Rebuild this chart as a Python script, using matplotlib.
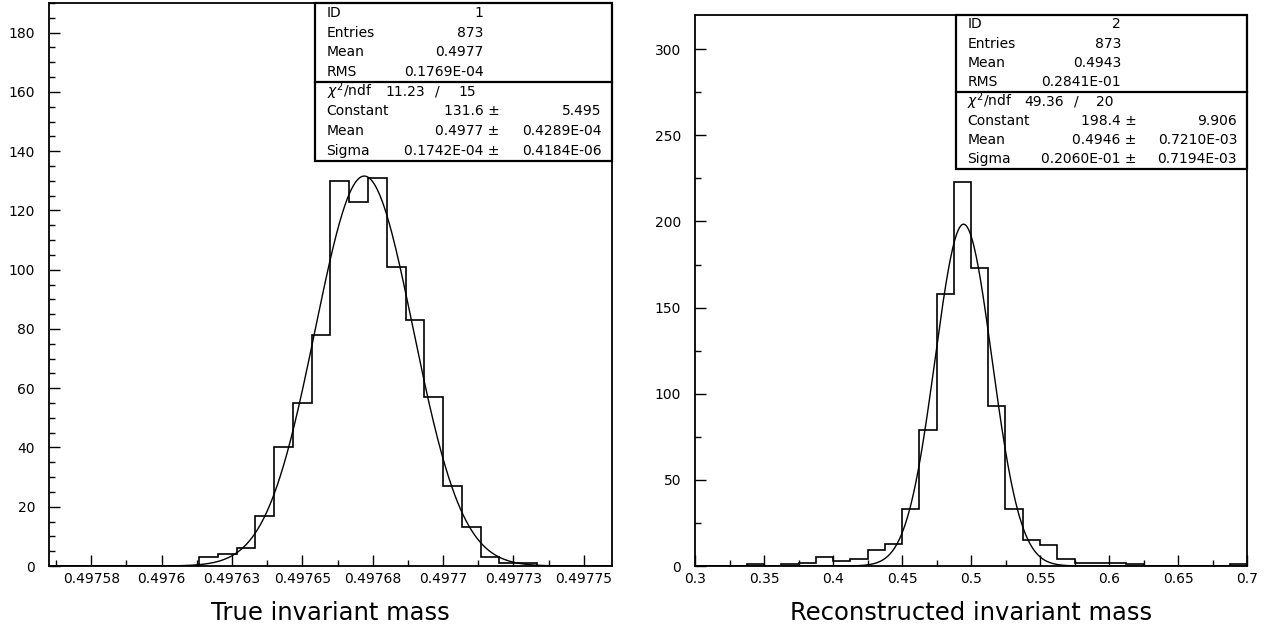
import numpy as np
import matplotlib
matplotlib.use("Agg")
import matplotlib.pyplot as plt
from matplotlib.patches import Rectangle
from matplotlib.ticker import MultipleLocator, FixedLocator

plt.rcParams['font.family'] = ['DejaVu Sans']

# ---- left histogram: true invariant mass (30 bins) ----
true_lo, true_hi = 0.49756, 0.49776
true_counts = [0, 0, 0, 0, 0, 0, 0, 0, 3, 4, 6, 17, 40, 55, 78,
               130, 123, 131, 101, 83, 57, 27, 13, 3, 1, 1, 0, 0, 0, 0]
true_fit = dict(const=131.6, mean=0.497672, sigma=0.1742e-4)
true_xticks = [0.497575, 0.4976, 0.497625, 0.49765, 0.497675, 0.4977, 0.497725, 0.49775]
true_xlabels = ['0.49758', '0.4976', '0.49763', '0.49765', '0.49768', '0.4977', '0.49773', '0.49775']
true_stats = [('ID', '1'), ('Entries', '873'), ('Mean', '0.4977'), ('RMS', '0.1769E-04')]
true_chi = ('11.23', '15')
true_pars = [('Constant', '131.6', '5.495'),
             ('Mean', '0.4977', '0.4289E-04'),
             ('Sigma', '0.1742E-04', '0.4184E-06')]

# ---- right histogram: reconstructed invariant mass (32 bins) ----
reco_lo, reco_hi = 0.3, 0.7
reco_counts = [0, 0, 0, 1, 0, 1, 2, 5, 3, 4, 9, 13, 33, 79, 158, 223,
               173, 93, 33, 15, 12, 4, 2, 2, 2, 1, 0, 0, 0, 0, 0, 1]
reco_fit = dict(const=198.4, mean=0.4946, sigma=0.2060e-1)
reco_xticks = [0.3, 0.35, 0.4, 0.45, 0.5, 0.55, 0.6, 0.65, 0.7]
reco_xlabels = ['0.3', '0.35', '0.4', '0.45', '0.5', '0.55', '0.6', '0.65', '0.7']
reco_stats = [('ID', '2'), ('Entries', '873'), ('Mean', '0.4943'), ('RMS', '0.2841E-01')]
reco_chi = ('49.36', '20')
reco_pars = [('Constant', '198.4', '9.906'),
             ('Mean', '0.4946', '0.7210E-03'),
             ('Sigma', '0.2060E-01', '0.7194E-03')]


def draw_panel(ax, lo, hi, counts, fit, xticks, xlabels, xminor, ymax, ymajor, yminor):
    edges = np.linspace(lo, hi, len(counts) + 1)
    ax.stairs(counts, edges, color='black', lw=1.2, baseline=0)
    xs = np.linspace(lo, hi, 800)
    ys = fit['const'] * np.exp(-0.5 * ((xs - fit['mean']) / fit['sigma']) ** 2)
    ax.plot(xs, ys, color='black', lw=1.0)

    ax.set_xlim(lo, hi)
    ax.set_ylim(0, ymax)
    ax.xaxis.set_major_locator(FixedLocator(xticks))
    ax.set_xticklabels(xlabels)
    ax.xaxis.set_minor_locator(MultipleLocator(xminor))
    ax.yaxis.set_major_locator(MultipleLocator(ymajor))
    ax.yaxis.set_minor_locator(MultipleLocator(yminor))
    ax.tick_params(which='both', direction='in', top=False, right=False,
                   width=1.0, labelsize=10)
    ax.tick_params(which='major', length=8)
    ax.tick_params(which='minor', length=4)
    ax.tick_params(axis='x', pad=4)
    ax.tick_params(axis='y', pad=10)
    for sp in ax.spines.values():
        sp.set_linewidth(1.3)


def draw_statbox(ax, stats, chi, pars):
    x0, y_bot, y_div = 0.4727, 0.72, 0.86
    row = (1.0 - y_bot) / 8
    ax.add_patch(Rectangle((x0, y_bot), 1 - x0, 1 - y_bot, transform=ax.transAxes,
                           facecolor='white', edgecolor='black', lw=1.6,
                           clip_on=False, zorder=5))
    ax.plot([x0, 1], [y_div, y_div], transform=ax.transAxes, color='black',
            lw=1.6, clip_on=False, zorder=6)
    kw = dict(transform=ax.transAxes, fontsize=10, va='center', zorder=7)
    xl, xv, xpm, xe = 0.493, 0.772, 0.80, 0.982
    for i, (name, val) in enumerate(stats):
        y = 1 - row * (i + 0.5)
        ax.text(xl, y, name, ha='left', **kw)
        ax.text(xv, y, val, ha='right', **kw)
    y = 1 - row * 4.5
    ax.text(xl, y, r'$\chi^2$/ndf', ha='left', **kw)
    ax.text(0.597, y, chi[0], ha='left', **kw)
    ax.text(0.69, y, '/', ha='center', **kw)
    ax.text(0.758, y, chi[1], ha='right', **kw)
    for i, (name, val, err) in enumerate(pars):
        y = 1 - row * (i + 5.5)
        ax.text(xl, y, name, ha='left', **kw)
        ax.text(xpm, y, val + ' \u00b1', ha='right', **kw)
        ax.text(xe, y, err, ha='right', **kw)


fig = plt.figure(figsize=(12.74, 6.35), dpi=100)
ax1 = fig.add_axes([49 / 1274, 69 / 635, 563 / 1274, 563 / 635])
ax2 = fig.add_axes([695 / 1274, 69 / 635, 552 / 1274, 551.3 / 635])

draw_panel(ax1, true_lo, true_hi, true_counts, true_fit, true_xticks, true_xlabels,
           0.0000125, 190, 20, 5)
draw_panel(ax2, reco_lo, reco_hi, reco_counts, reco_fit, reco_xticks, reco_xlabels,
           0.025, 320, 50, 25)
draw_statbox(ax1, true_stats, true_chi, true_pars)
draw_statbox(ax2, reco_stats, reco_chi, reco_pars)

fig.text(330.5 / 1274, 1 - 613 / 635, 'True invariant mass', ha='center', va='center',
         fontsize=17.5)
fig.text(971 / 1274, 1 - 613 / 635, 'Reconstructed invariant mass', ha='center',
         va='center', fontsize=17.5)

fig.savefig('out.png', dpi=100)
